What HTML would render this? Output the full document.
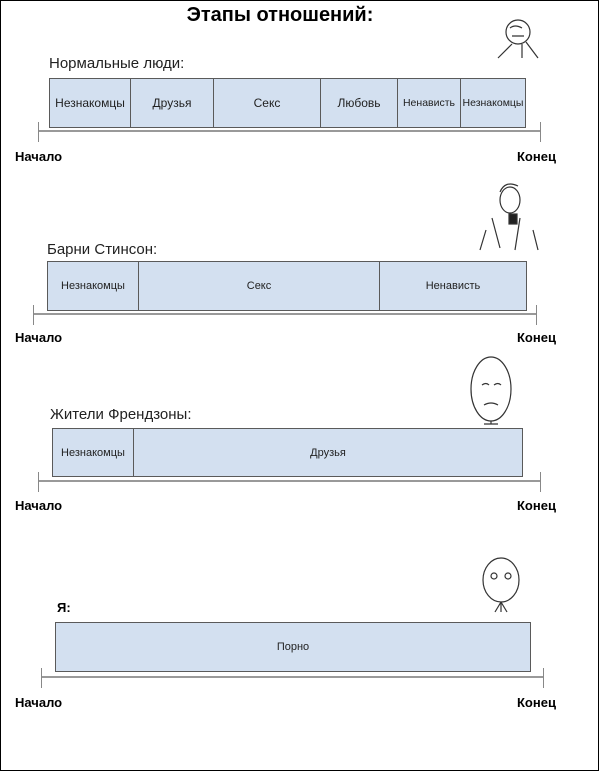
<!DOCTYPE html>
<html><head><meta charset="utf-8"><style>
body{margin:0;width:600px;height:771px;overflow:hidden;background:#fff;font-family:"Liberation Sans","DejaVu Sans",sans-serif;}
#f{position:absolute;left:0;top:0;width:597px;height:769px;border:1px solid #000;}
.a{position:absolute;white-space:nowrap;}
.bar{position:absolute;background:#d3e0f0;border:1.5px solid #5a5a5a;box-sizing:border-box;display:flex;}
.bar div{border-right:1.5px solid #5a5a5a;display:flex;align-items:center;justify-content:center;font-size:11px;color:#222;box-sizing:border-box;}
.bar div:last-child{border-right:none;}
.line{position:absolute;height:2px;background:#999;}
.tick{position:absolute;width:1px;background:#888;height:20px;}
.b{font-weight:bold;font-size:13px;}
.lab{font-size:15px;color:#222;}
</style></head><body><div id="f"></div>
<div class="a" style="left:0;width:560px;text-align:center;top:4px;font-size:20px;font-weight:bold">Этапы отношений:</div>

<div class="a lab" style="left:49px;top:55px">Нормальные люди:</div>
<div class="bar" style="left:49px;top:78px;width:477px;height:50px">
<div style="width:81px;font-size:12px">Незнакомцы</div><div style="width:83px;font-size:12px">Друзья</div><div style="width:107px;font-size:12px">Секс</div><div style="width:77px;font-size:12px">Любовь</div><div style="width:63px;font-size:10.5px">Ненависть</div><div style="flex:1;font-size:10.5px">Незнакомцы</div></div>
<div class="line" style="left:38px;top:130px;width:502px"></div>
<div class="tick" style="left:38px;top:122px"></div><div class="tick" style="left:540px;top:122px"></div>
<div class="a b" style="left:15px;top:149px">Начало</div><div class="a b" style="left:517px;top:149px">Конец</div>

<div class="a lab" style="left:47px;top:241px">Барни Стинсон:</div>
<div class="bar" style="left:47px;top:261px;width:480px;height:50px">
<div style="width:91px">Незнакомцы</div><div style="width:241px">Секс</div><div style="flex:1">Ненависть</div></div>
<div class="line" style="left:33px;top:313px;width:504px"></div>
<div class="tick" style="left:33px;top:305px"></div><div class="tick" style="left:536px;top:305px"></div>
<div class="a b" style="left:15px;top:330px">Начало</div><div class="a b" style="left:517px;top:330px">Конец</div>

<div class="a lab" style="left:50px;top:406px">Жители Френдзоны:</div>
<div class="bar" style="left:52px;top:428px;width:471px;height:49px">
<div style="width:81px">Незнакомцы</div><div style="flex:1">Друзья</div></div>
<div class="line" style="left:38px;top:480px;width:502px"></div>
<div class="tick" style="left:38px;top:472px"></div><div class="tick" style="left:540px;top:472px"></div>
<div class="a b" style="left:15px;top:498px">Начало</div><div class="a b" style="left:517px;top:498px">Конец</div>

<div class="a b" style="left:57px;top:600px">Я:</div>
<div class="bar" style="left:55px;top:622px;width:476px;height:50px"><div style="flex:1">Порно</div></div>
<div class="line" style="left:41px;top:676px;width:502px"></div>
<div class="tick" style="left:41px;top:668px"></div><div class="tick" style="left:543px;top:668px"></div>
<div class="a b" style="left:15px;top:695px">Начало</div><div class="a b" style="left:517px;top:695px">Конец</div>

<svg class="a" style="left:0;top:0" width="600" height="771" fill="none" stroke="#333" stroke-width="1.2">
<circle cx="518" cy="32" r="12"/><path d="M510 28 q5 -4 12 0 M512 36 L524 36 M512 44 L498 58 M522 44 L522 58 M526 42 L538 58"/>
<path d="M486 230 L480 250 M533 230 L538 250 M492 218 L500 248 M520 218 L515 250"/>
<ellipse cx="510" cy="200" rx="10" ry="13"/><path d="M500 192 Q505 180 518 186"/>
<rect x="509" y="214" width="8" height="10" fill="#222"/>
<ellipse cx="491" cy="389" rx="20" ry="32"/><path d="M482 385 q4 -3 7 0 M494 385 q4 -3 7 0 M484 405 q7 -4 14 0 M491 421 L491 424 M484 424 L498 424"/>
<ellipse cx="501" cy="580" rx="18" ry="22"/><circle cx="494" cy="576" r="3"/><circle cx="508" cy="576" r="3"/>
<path d="M501 602 L495 612 M501 602 L507 612 M501 602 L501 612"/>
</svg>
</body></html>
